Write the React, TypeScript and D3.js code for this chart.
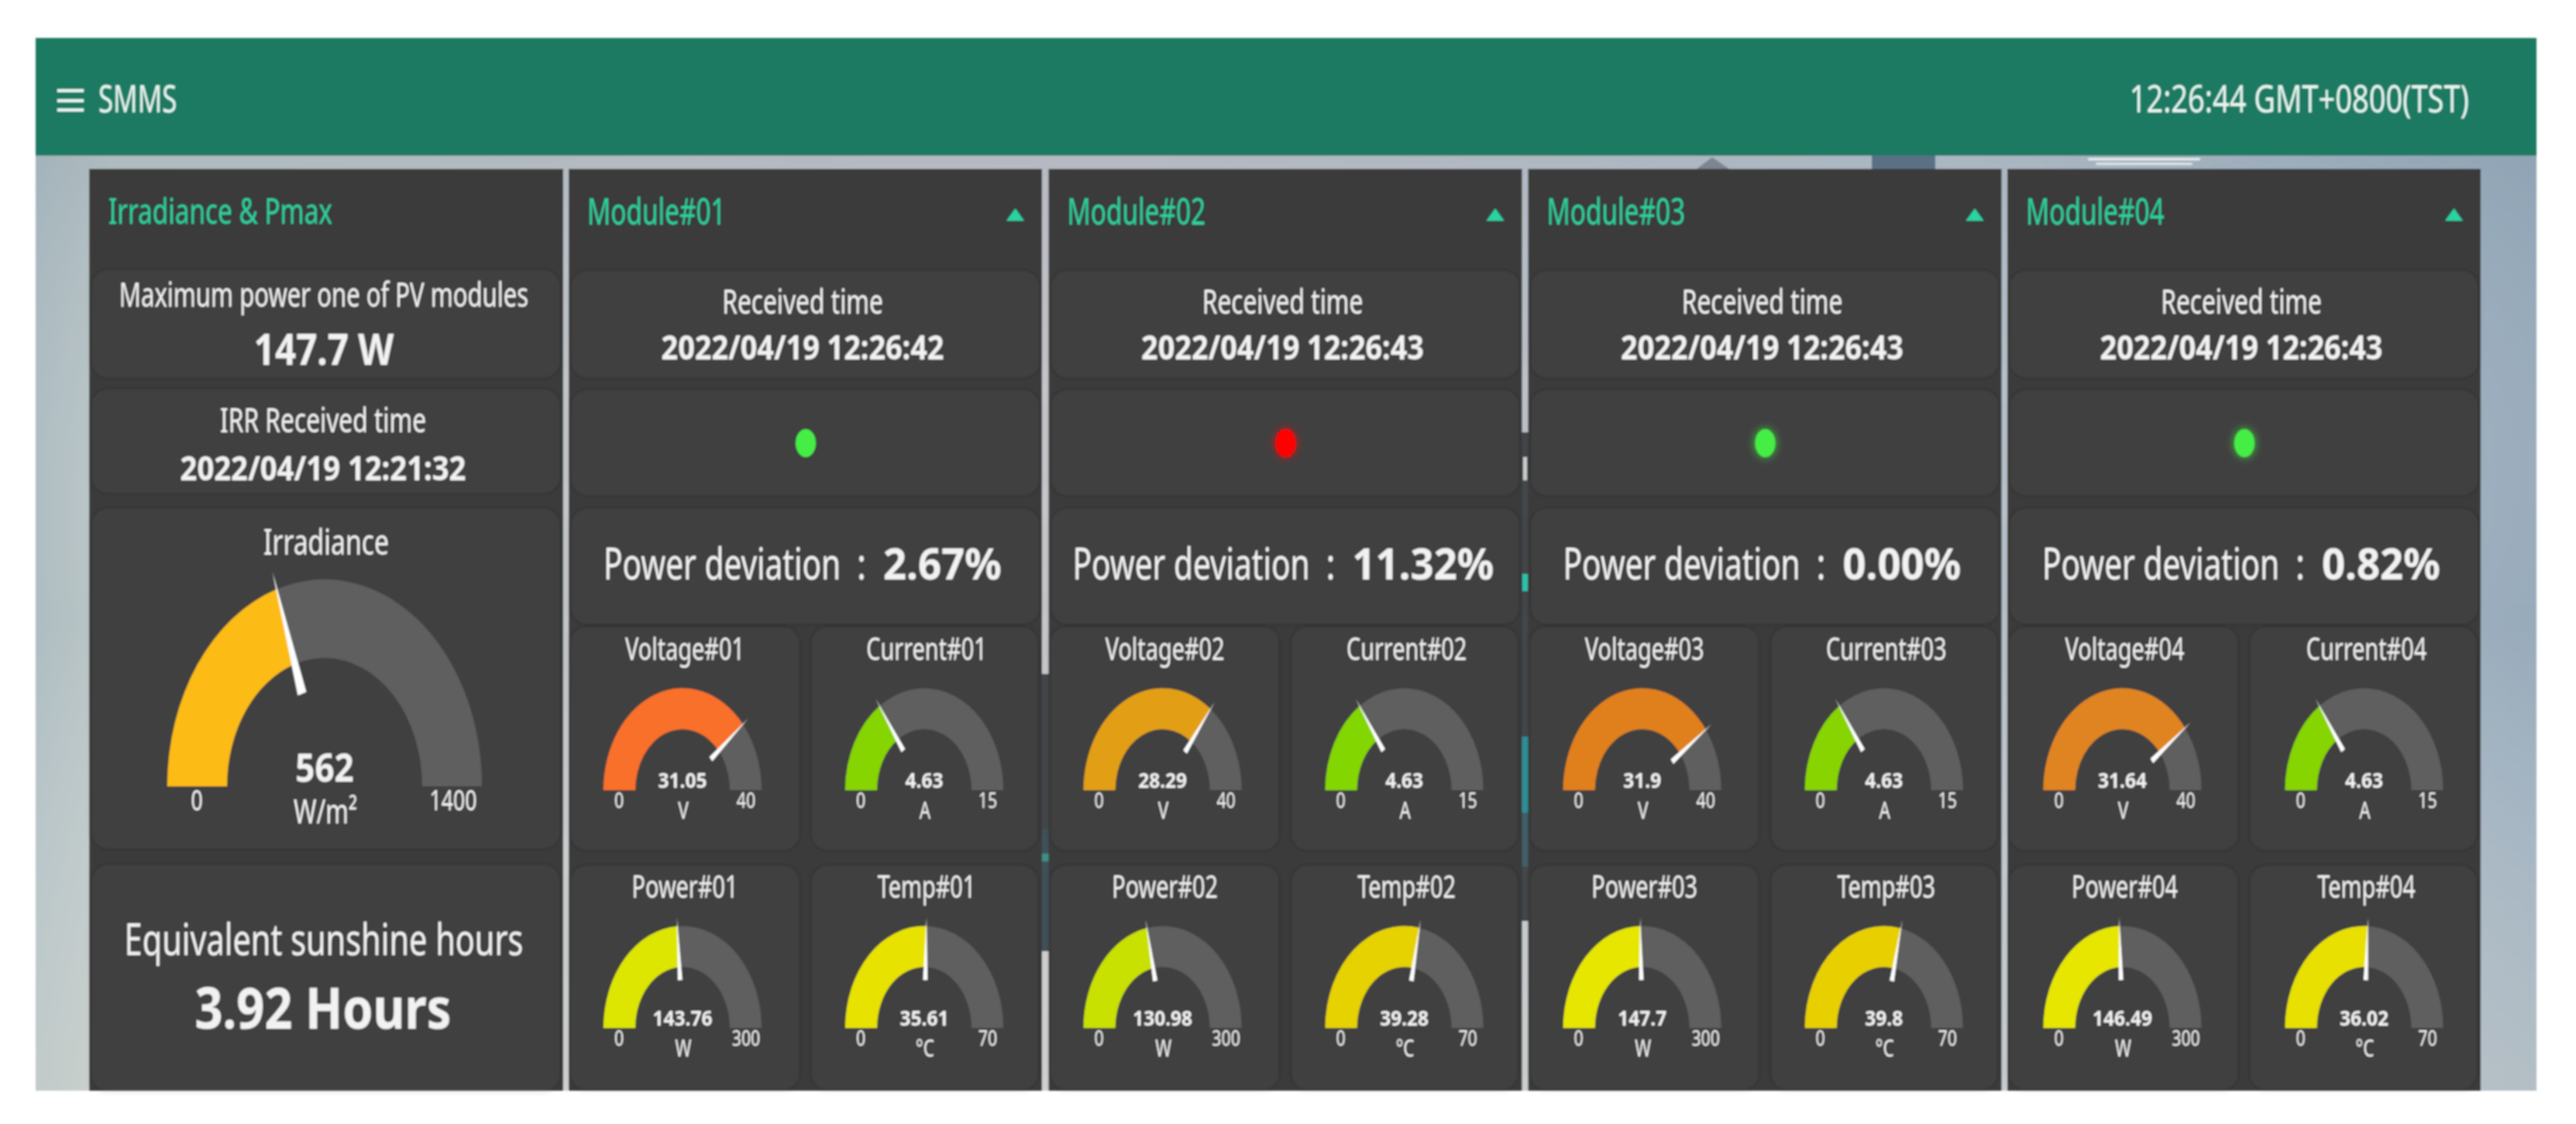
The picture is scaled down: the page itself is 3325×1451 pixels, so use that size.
import React from 'react'
import * as d3 from 'd3'

// values
const moduleIds = ['01', '02', '03', '04']
const receivedTimes = ['2022/04/19 12:26:42', '2022/04/19 12:26:43', '2022/04/19 12:26:43', '2022/04/19 12:26:43']
const ledStates = ['ok', 'alarm', 'ok', 'ok']
const deviations = [2.67, 11.32, 0.0, 0.82]
const voltages = [31.05, 28.29, 31.9, 31.64]
const currents = [4.63, 4.63, 4.63, 4.63]
const powers = [143.76, 130.98, 147.7, 146.49]
const temps = [35.61, 39.28, 39.8, 36.02]

const gaugeTitles = ['Voltage', 'Current', 'Power', 'Temp']
const gaugeUnits = ['V', 'A', 'W', '°C']
const gaugeMaxes = [40, 15, 300, 70]
const gaugeValues = [voltages, currents, powers, temps]

const irradiance = 562
const irradianceMax = 1400
const pmax = 147.7
const irrTime = '2022/04/19 12:21:32'
const sunHours = 3.92
const clockText = '12:26:44 GMT+0800(TST)'

// arc colours, one per module
const voltageColors = ['#f9702a', '#e29f14', '#e0801a', '#e08420']
const currentColors = ['#86d400', '#84d600', '#88d400', '#86d400']
const powerColors = ['#dde600', '#c9e100', '#e6e600', '#e6e600']
const tempColors = ['#e8e200', '#e6d200', '#e8d000', '#e8e000']
const gaugeColors = [voltageColors, currentColors, powerColors, tempColors]

const ACCENT = '#2ad3a0'
const TRACK = '#5f5f5f'
const TEXT = '#f2f2f2'
const FONT = '"Noto Sans", sans-serif'

const T = ({ x, y, cap, bold = false, anchor = 'middle', fill = TEXT, sx, children }: any) => (
	<text
		transform={`translate(${x},${y}) scale(${sx ?? (bold ? 0.87 : 0.73)},1)`}
		fontSize={cap / 0.714}
		fontWeight={bold ? 700 : 400}
		fontFamily={FONT}
		textAnchor={anchor}
		fill={fill}
	>
		{children}
	</text>
)

const Card = ({ x, y, w, h }: any) => (
	<rect x={x} y={y} width={w} height={h} rx={20} fill="#3f3f3f" filter="url(#cardShadow)" />
)

const Gauge = ({ cx, by, r, ir, ky, value, max, color }: any) => {
	const angle = d3.scaleLinear().domain([0, max]).range([-Math.PI / 2, Math.PI / 2])
	const arc = d3.arc().innerRadius(ir).outerRadius(r)
	const a = angle(value)
	const track = arc({ startAngle: -Math.PI / 2, endAngle: Math.PI / 2 } as any)
	const fill = arc({ startAngle: -Math.PI / 2, endAngle: a } as any)
	// pointer is a thin wedge, wider at the hub end
	const hw = r * 0.028
	const ux = Math.sin(a)
	const uy = -Math.cos(a)
	const needle = d3.line()([
		[ux * r * 0.47 - uy * hw, uy * r * 0.47 + ux * hw],
		[ux * r * 1.09, uy * r * 1.09],
		[ux * r * 0.47 + uy * hw, uy * r * 0.47 - ux * hw],
	]) + 'Z'
	return (
		<g transform={`translate(${cx},${by}) scale(1,${ky})`}>
			<path d={track} fill={TRACK} />
			<path d={fill} fill={color} />
			<path d={needle} fill="#fff" />
		</g>
	)
}

const SmallGauge = ({ cx, by, title, unit, value, max, color }: any) => (
	<g>
		<T x={cx + 3} y={by - 168} cap={29} sx={0.71}>{title}</T>
		<Gauge cx={cx} by={by} r={102} ir={61} ky={1.29} value={value} max={max} color={color} />
		<T x={cx} y={by - 3} cap={19} bold sx={0.92}>{value}</T>
		<T x={cx - 82} y={by + 23} cap={19} sx={0.8}>0</T>
		<T x={cx + 82} y={by + 23} cap={19} sx={0.8}>{max}</T>
		<T x={cx + 1} y={by + 37} cap={22}>{unit}</T>
	</g>
)

const PANEL_TOP = 218
const PANEL_BOTTOM = 1408
const PANEL_W = 611
const panelXs = [734, 1353.5, 1972.5, 2591]
const gaugeXs = [881, 1500.6, 2119.7, 2739.5]
const CURRENT_DX = 312
const rowBases = [1020, 1327]

const ModulePanel = ({ i }: any) => {
	const x = panelXs[i]
	const id = moduleIds[i]
	const mid = x + 302
	const ok = ledStates[i] === 'ok'
	// label and value are stretched differently, so they sit side by side
	const devText = `${deviations[i].toFixed(2)}%`
	const devW = 337 + 27 + 150 + (devText.length - 5) * 28
	const devLeft = mid - devW / 2
	return (
		<g>
			<rect x={x} y={PANEL_TOP} width={PANEL_W} height={PANEL_BOTTOM - PANEL_TOP} fill="#3b3b3b" />
			<T x={x + 24} y={290} cap={34} anchor="start" fill={ACCENT} sx={0.7}>{`Module#${id}`}</T>
			<path d={d3.line()([[x + 565, 285], [x + 588, 285], [x + 576.5, 269]]) + 'Z'} fill={ACCENT} />

			<Card x={x + 4} y={350} w={PANEL_W - 8} h={137} />
			<T x={mid} y={405} cap={31}>Received time</T>
			<T x={mid} y={464} cap={31} bold>{receivedTimes[i]}</T>

			<Card x={x + 4} y={504} w={PANEL_W - 8} h={135} />
			<ellipse
				cx={x + 306}
				cy={572}
				rx={13}
				ry={18}
				fill={ok ? '#44ee44' : '#ff0000'}
				filter={i === 0 ? undefined : ok ? 'url(#glowGreen)' : 'url(#glowRed)'}
			/>

			<Card x={x + 4} y={657} w={PANEL_W - 8} h={148} />
			<T x={devLeft} y={748} cap={40} anchor="start" sx={0.725}>Power deviation</T>
			<T x={devLeft + 333} y={748} cap={40} sx={0.8}>:</T>
			<T x={devLeft + 361} y={748} cap={40} anchor="start" bold sx={0.94}>{devText}</T>

			{gaugeTitles.map((t, k) => {
				const col = k % 2
				const row = k < 2 ? 0 : 1
				const cx = gaugeXs[i] + col * CURRENT_DX
				return (
					<g key={t}>
						<Card
							x={x + (col ? 314 : 3)}
							y={row ? 1118 : 810}
							w={col ? 291 : 294}
							h={row ? 288 : 287}
						/>
						<SmallGauge
							cx={cx}
							by={rowBases[row]}
							title={`${t}#${id}`}
							unit={gaugeUnits[k]}
							value={gaugeValues[k][i]}
							max={gaugeMaxes[k]}
							color={gaugeColors[k][i]}
						/>
					</g>
				)
			})}
		</g>
	)
}

const LeftPanel = () => (
	<g>
		<rect x={115} y={PANEL_TOP} width={612} height={PANEL_BOTTOM - PANEL_TOP} fill="#3b3b3b" />
		<T x={140} y={289} cap={33} anchor="start" fill={ACCENT} sx={0.72}>Irradiance &amp; Pmax</T>

		<Card x={119} y={349} w={603} h={138} />
		<T x={418} y={396} cap={31} sx={0.715}>Maximum power one of PV modules</T>
		<T x={418} y={471} cap={39} bold>{pmax} W</T>

		<Card x={119} y={503} w={603} h={133} />
		<T x={417} y={558} cap={31}>IRR Received time</T>
		<T x={417} y={620} cap={31} bold sx={0.88}>{irrTime}</T>

		<Card x={119} y={657} w={603} h={438} />
		<T x={421} y={716} cap={33}>Irradiance</T>
		<Gauge cx={419} by={1015} r={203} ir={126} ky={1.315} value={irradiance} max={irradianceMax} color="#fdbb13" />
		<T x={419} y={1009} cap={36} bold>{irradiance}</T>
		<T x={254} y={1046} cap={26}>0</T>
		<T x={585} y={1046} cap={26}>{irradianceMax}</T>
		<T x={420} y={1063} cap={31}>W/m²</T>

		<Card x={119} y={1117} w={603} h={291} />
		<T x={418} y={1233} cap={40} sx={0.74}>Equivalent sunshine hours</T>
		<T x={417} y={1328} cap={53} bold sx={0.85}>{sunHours} Hours</T>
	</g>
)

// bits of the photo behind the panels that show through the gaps
const Backdrop = () => (
	<g>
		<rect x={46} y={201} width={3228} height={1207} fill="url(#bgX)" />
		<rect x={46} y={201} width={3228} height={1207} fill="url(#bgY)" />
		<rect x={2416} y={201} width={82} height={18} fill="#5a6f85" />
		<path d="M2190,218 L2210,203 L2232,218 Z" fill="#7b8590" />
		<rect x={2695} y={204} width={145} height={3} rx={1.5} fill="#e6ecf0" />
		<rect x={2705} y={210} width={125} height={3} rx={1.5} fill="#dde4e9" />
		<rect x={1345} y={870} width={9} height={358} fill="#434648" />
		<rect x={1345} y={1070} width={9} height={158} fill="#3f5157" />
		<rect x={1345} y={1102} width={9} height={10} fill="#3a8f86" />
		<rect x={1964} y={558} width={9} height={631} fill="#434648" />
		<rect x={1966} y={590} width={5} height={30} fill="#c9cccc" />
		<rect x={1965} y={741} width={7} height={22} fill="#2cc4b0" />
		<rect x={1964} y={951} width={9} height={98} fill="#2e8f98" />
		<rect x={1964} y={1049} width={9} height={70} fill="#3f5f66" />
	</g>
)

export default function App() {
	return (
		<svg width={3325} height={1451} style={{ position: 'fixed', left: 0, top: 0, background: '#fff' }}>
			<defs>
				<linearGradient id="bgX" x1="0" x2="1" y1="0" y2="0">
					<stop offset="0" stopColor="#aebdc2" />
					<stop offset="0.03" stopColor="#bcc6c6" />
					<stop offset="0.4" stopColor="#c6c4c9" />
					<stop offset="0.8" stopColor="#b5c0c8" />
					<stop offset="1" stopColor="#98abbb" />
				</linearGradient>
				<linearGradient id="bgY" x1="0" x2="0" y1="0" y2="1">
					<stop offset="0" stopColor="#5f7a95" stopOpacity="0.15" />
					<stop offset="0.5" stopColor="#ffffff" stopOpacity="0" />
					<stop offset="1" stopColor="#e6e3d8" stopOpacity="0.35" />
				</linearGradient>
				<filter id="soft" filterUnits="userSpaceOnUse" x="0" y="0" width="3325" height="1451">
					<feGaussianBlur stdDeviation="0.8" />
				</filter>
				<filter id="cardShadow" x="-5%" y="-10%" width="110%" height="120%">
					<feDropShadow dx="0" dy="0" stdDeviation="4" floodColor="#000" floodOpacity="0.16" />
				</filter>
				<filter id="glowGreen" x="-150%" y="-150%" width="400%" height="400%">
					<feDropShadow dx="0" dy="0" stdDeviation="6" floodColor="#3fe03f" floodOpacity="0.9" />
				</filter>
				<filter id="glowRed" x="-150%" y="-150%" width="400%" height="400%">
					<feDropShadow dx="0" dy="0" stdDeviation="6" floodColor="#ff1010" floodOpacity="0.9" />
				</filter>
			</defs>
			<g filter="url(#soft)">
				<Backdrop />

				<rect x={46} y={49} width={3228} height={152} fill="#1a7a62" />
				{[117, 130, 142].map(y => (
					<rect key={y} x={74} y={y - 2} width={34} height={4} fill="#e6f5f0" />
				))}
				<T x={127} y={145} cap={35} anchor="start" fill="#e6f7f2" sx={0.71}>SMMS</T>
				<T x={3187} y={145} cap={35} anchor="end" fill="#e6f7f2" sx={0.775}>{clockText}</T>

				<LeftPanel />
				{moduleIds.map((id, i) => <ModulePanel key={id} i={i} />)}
			</g>
		</svg>
	)
}
